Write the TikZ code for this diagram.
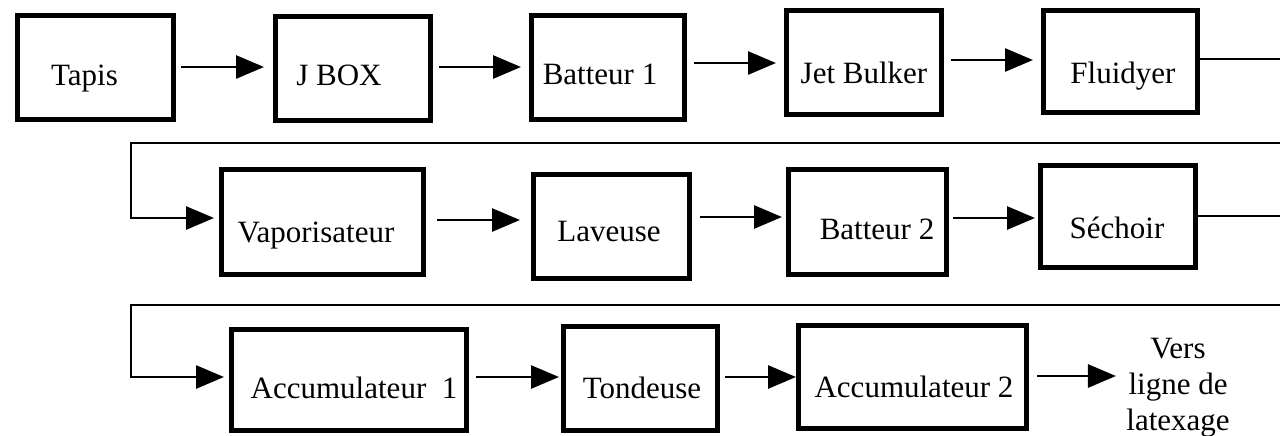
\documentclass[tikz,border=0pt]{standalone}
\usepackage{fontspec}
\setmainfont{Liberation Serif}
\usetikzlibrary{arrows.meta,fit}

% One process box: name, outer corners (x1,y1) (x2,y2) in px,
% label centre x and baseline y in px, label text.
\newcommand\stage[8]{%
  \node[procbox, fit={(#2+2.7,#3+2.7) (#4-2.7,#5-2.7)}] (#1) {};
  \node[boxlabel] (#1-t) at (#6,#7) {#8};}

\begin{document}
\begin{tikzpicture}[x=0.5pt,y=-0.5pt,
  procbox/.style={draw, line width=2.7pt, inner sep=0pt, outer sep=1.35pt},
  boxlabel/.style={anchor=base, inner sep=0pt, font=\fontsize{15.5}{18}\selectfont},
  flow/.style={line width=1.4pt, -{Triangle[length=14pt,width=11.5pt]}},
  destlabel/.style={align=center, inner sep=0pt, font=\fontsize{15.5}{18}\selectfont}]
\useasboundingbox (0,0) rectangle (1280,435);
\clip (0,0) rectangle (1280,435);

% first line
\stage{tapis}{15}{13}{176}{122}{84.5}{85}{Tapis}
\stage{jbox}{273}{14}{433}{123}{339}{85}{J BOX}
\stage{batA}{529}{13}{687}{122}{600}{84}{Batteur 1}
\stage{jet}{784}{8}{944}{117}{864}{83}{Jet Bulker}
\stage{fluid}{1041}{8}{1200}{115}{1123}{83}{Fluidyer}

% second line
\stage{vapo}{219}{167}{426}{277}{316}{242}{Vaporisateur}
\stage{lav}{531}{172}{692}{281}{609}{241}{Laveuse}
\stage{batB}{786}{167}{949}{277}{877}{239}{Batteur 2}
\stage{sech}{1038}{163}{1198}{270}{1117}{238}{Séchoir}

% third line
\stage{accA}{229}{327}{469}{433}{354}{398}{Accumulateur~~1}
\stage{tond}{561}{324}{720}{433}{642}{398}{Tondeuse}
\stage{accB}{796}{323}{1029}{431}{914}{397}{Accumulateur 2}
\node[destlabel] (dest) at (1178,388) {Vers\\ligne de\\latexage};

% arrows along the first line
\draw[flow, shorten <=2.5pt, shorten >=4.5pt] (tapis.east |- 0,67) -- (jbox.west |- 0,67);
\draw[flow, shorten <=3pt, shorten >=4pt] (jbox.east |- 0,67) -- (batA.west |- 0,67);
\draw[flow, shorten <=3.5pt, shorten >=4pt] (batA.east |- 0,63) -- (jet.west |- 0,63);
\draw[flow, shorten <=3.5pt, shorten >=4pt] (jet.east |- 0,60) -- (fluid.west |- 0,60);

% return to the second line
\draw[flow, shorten >=2.5pt] (fluid.east |- 0,59) -- (1290,59) -- (1290,143)
  -- (131,143) -- (131,218) -- (vapo.west |- 0,218);

% arrows along the second line
\draw[flow, shorten <=5.5pt, shorten >=5.5pt] (vapo.east |- 0,220) -- (lav.west |- 0,220);
\draw[flow, shorten <=4pt, shorten >=2pt] (lav.east |- 0,217) -- (batB.west |- 0,217);
\draw[flow, shorten <=2pt, shorten >=1.5pt] (batB.east |- 0,218) -- (sech.west |- 0,218);

% return to the third line
\draw[flow, shorten >=2.5pt] (sech.east |- 0,216) -- (1290,216) -- (1290,305)
  -- (131,305) -- (131,377) -- (accA.west |- 0,377);

% arrows along the third line
\draw[flow, shorten <=3.5pt, shorten >=1pt] (accA.east |- 0,377) -- (tond.west |- 0,377);
\draw[flow, shorten <=2.5pt] (tond.east |- 0,377) -- (accB.west |- 0,377);
\draw[flow, shorten <=4pt, shorten >=5pt] (accB.east |- 0,376) -- (dest.west |- 0,376);
\end{tikzpicture}
\end{document}
